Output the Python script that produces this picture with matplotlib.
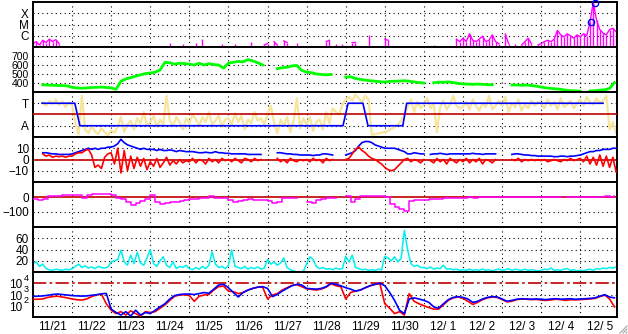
import numpy as np
import matplotlib
matplotlib.use('Agg')
import matplotlib.pyplot as plt
from matplotlib.lines import Line2D

plt.rcParams['font.family'] = ['Liberation Sans', 'DejaVu Sans']
plt.rcParams['font.size'] = 8.5

nan = np.nan

# x axis: days since 11/21 00 UT
day_labels = ['11/21', '11/22', '11/23', '11/24', '11/25', '11/26', '11/27', '11/28',
              '11/29', '11/30', '12/ 1', '12/ 2', '12/ 3', '12/ 4', '12/ 5']

# GOES X-ray flux, 2-hour samples, units of 1e-7 W/m2 (0 = below plot)
xray = [2, 3, 1.5, 4, 2.5, 5, 3, 4.5, 2, 0, 0, 0,
        0, 0, 0, 0, 0, 0, 0, 0, 0, 0, 0, 0,
        0, 0, 0, 0, 0, 0, 0, 0, 0, 0, 0, 0,
        0, 0, 0, 0, 0, 0, 2.5, 0, 0, 0, 1.7, 0,
        0, 0, 2.5, 0, 5, 0, 0, 0, 0, 0, 1.7, 0,
        0, 0, 2, 0, 0, 0, 0, 3, 0, 0, 0, 1.5,
        2, 0, 3, 1.5, 0, 3.5, 2.5, 0, 0, 2.5, 0, 0,
        0, 0, 0, 0, 0, 0, 3, 4, 0, 2, 0, 2,
        0, 0, 2.5, 2.5, 0, 0, 0, 12, 0, 0, 0, 0,
        5, 4, 0, 0, 0, 0, 0, 0, 0, 0, 0, 0,
        0, 0, 0, 1.5, 0, 0, 0, 0, 0, 0, 5, 3,
        6, 3, 15, 4, 3, 5, 9, 3, 4, 12, 3, 2,
        0, 14, 2, 0, 2, 0, 1.5, 3, 6, 2, 0, 1.5,
        2, 3, 4, 3, 5, 30, 12, 8, 15, 10, 6, 12,
        8, 15, 10, 180, 9300, 250, 35, 17, 12, 35, 46, 23]
flare_t = [14.27, 14.37]
flare_f = [1.8e-5, 9.0e-4]

# solar wind speed, 3-hour samples (km/s)
speed = [nan, nan, 380, 378, 375, 372, 372, 368,
         352, 345, 342, 345, 350, 352, 355, 350,
         345, 330, 420, 445, 460, 475, 490, 505,
         510, 520, 545, 630, 625, 610, 620, 615,
         610, 600, 620, 600, 615, 605, 600, 565,
         620, 630, 640, 635, 660, 645, 625, 600,
         nan, nan, 560, 570, 575, 590, 595, 540,
         520, 515, 500, 495, 490, 495, nan, nan,
         465, 470, 450, 440, 432, 425, 420, 415,
         410, 418, 420, 422, 425, 420, 412, 405,
         400, nan, 402, 410, 408, 412, 405, 395,
         390, 388, 385, 388, 385, 382, 380, nan,
         nan, nan, 378, 378, 375, 376, 372, 365,
         355, 345, 340, 335, 330, 320, 315, 312,
         310, nan, 312, 315, 320, 325, 340, 405]

# IMF longitude angle (deg), 2-hour samples, and sector polarity
phi = [nan, nan, nan, 280, 250, 290, 265, 300, 255, 285, 240, 275,
       260, 120, 20, 330, 60, 30, 90, 45, 25, 70, 40, 15,
       50, 35, 80, 160, 40, 100, 130, 60, 150, 110, 200, 90,
       120, 170, 80, 140, 100, 330, 130, 90, 160, 120, 60, 150,
       110, 180, 140, 90, 160, 120, 200, 100, 130, 170, 80, 140,
       150, 100, 190, 120, 170, 60, 140, 110, 200, 130, 150, 100,
       180, 250, 120, 30, 140, 90, 160, 40, 130, 310, 70, 150,
       100, 160, 50, 120, 140, 60, 200, 110, 230, 200, 180, 260,
       300, 320, 290, 340, 310, 280, 330, 300, 18, 22, 28, 34,
       40, 50, 65, 80, 100, 130, 170, 240, 300, 200, 280, 230,
       260, 310, 230, 270, 40, 240, 290, 220, 260, 330, 250, 230,
       240, 280, 220, 300, 250, 210, 270, 240, 330, 220, 250, 290,
       250, 320, 200, 270, 240, 300, 210, 260, 230, 290, 250, 280,
       270, 230, 300, 250, 280, 220, 310, 240, 260, 290, 230, 270,
       300, 250, 320, 280, 260, 310, 270, 290, 330, 60, 120, 30]
sector_t = [0.23, 1.07, 1.2, 7.93, 8.06, 8.44, 8.57, 9.46, 9.56, 14.58]
sector_v = [270, 270, 90, 90, 270, 270, 90, 90, 270, 270]

# IMF |B| and Bz (nT), 2-hour samples
bt = [nan, nan, nan, 6, 6, 5.5, 5, 5, 4.5, 4.5, 4.5, 4.5,
      5, 6, 7, 8, 9, 10, 9, 10, 9, 10, 10, 11,
      11, 12, 14, 18, 15, 13, 12, 11, 10, 9, 10, 9,
      9, 9, 8, 9, 8, 8, 8.5, 8, 7, 8, 7.5, 7,
      7, 7, 6.5, 6, 6, 6.5, 6, 6, 7, 6, 6, 5.5,
      5.5, 5, 5, 5, 5, 5, 4.5, 4.5, 4.5, 4.5, 4.5, nan,
      nan, nan, nan, 6, 6, 5.5, 5, 5, 4.5, 4.5, 4, 4,
      4, 4, 3.5, 4, 4, 5, 5, 4.5, 4, nan, nan, nan,
      4, 5, 6, 8, 12, 15, 16, 16, 15, 13, 12, 11,
      10, 10, 10, 10, 9, 8, 7, 5, 5, 6, 5.5, 5,
      5, nan, 4.5, 5, 5, 5.5, 5, 4.5, 5, 5, 5, 5,
      5, 5, 5, 5.5, 5, 5, 4.5, 5, 5, 5, 5, nan,
      nan, nan, nan, 4.5, 5, 5, 4.5, 4, 4, 3.5, 3.5, 3,
      3, 3, 3, 3, 2.5, 2.5, 3, 3, 2.5, 3, 3, 3.5,
      4, 5, 6, 7, 7, 8, 8, 9, 9, 9, 10, 10]
bz = [nan, nan, nan, 5, 3, 4, 2, 3, 2.5, 3, 2, 3,
      3, 5, 6, 6, 8, 9, 4, -7, -5, -8, 2, 5,
      6, -4, 10, -12, 8, -10, 3, -8, 2, -6, 1, -9,
      -2, -6, 1, -7, -3, 2, -5, -1, -4, 0, -3, -1,
      -2, 1, -3, 0, -1, -4, 1, -2, 0, -3, 1, -1,
      0, -2, 1, -1, -3, 1, 0, -2, 1, -1, 0, nan,
      nan, nan, nan, 1, -2, 0, -3, 1, -1, -2, 0, -1,
      0, -2, 1, -1, 0, -3, 1, -1, 0, nan, nan, nan,
      0, 1, 5, 9, 11, 8, 6, 3, 1, 0, -2, -4,
      -7, -9, -10, -9, -6, -3, 0, 1, -2, 0, -1, -3,
      0, nan, -1, -3, 1, -2, 0, -4, 1, -1, -3, 0,
      -2, 1, -3, 0, -2, 1, -4, 0, -1, -3, 0, nan,
      nan, nan, nan, 0, -1, 1, -2, 0, -1, 0, -1, 0,
      -1, 0, -2, -1, 0, -1, -2, 0, -1, 1, -1, 0,
      1, -2, 3, -4, 2, -5, 4, -6, 3, -7, 2, -11]

# Dst (nT), 3-hour samples
dst = [-10, -20, -15, 5, 10, 10, 12, 14,
       14, 13, -8, 15, 18, 17, 18, 17,
       16, -5, -15, -35, -50, -40, -25, -15,
       15, -30, -45, -40, -35, -30, -25, -20,
       -15, -12, -8, -5, 8, -5, -8, -5,
       -20, -30, -25, -20, -15, -18, -22, -20,
       -25, -40, -30, -8, -5, -5, nan, nan,
       -30, -42, -20, -10, -8, -6, nan, nan,
       4, -34, -10, 6, 8, 8, 10, 10,
       0, -45, -65, -80, -95, -25, -22, -20,
       -18, -15, -12, -10, -8, -8, -6, -5,
       -5, -3, -5, -2, 0, -3, -2, 0,
       2, 0, -3, 0, 2, 0, 0, -2,
       0, 2, 0, -2, nan, 0, 2, 0,
       2, 0, 3, 0, 2, 4, 3, 5]

# cyan series, 2-hour samples
cyan = [15, 18, 10, 14, 6, 4, 3, 5, 4, 3, 5, 4,
        6, 10, 14, 8, 11, 7, 9, 6, 10, 8, 7, 9,
        18, 20, 22, 39, 18, 12, 30, 15, 35, 16, 12, 25,
        40, 15, 10, 20, 27, 12, 8, 18, 6, 10, 8, 12,
        6, 4, 8, 5, 10, 6, 12, 36, 14, 8, 10, 6,
        12, 39, 10, 8, 6, 10, 5, 8, 6, 9, 5, 7,
        22, 14, 18, 12, 16, 25, 8, 4, 2, 0, 0, 1,
        15, 27, 22, 10, 6, 8, 5, 6, 4, 7, 5, 6,
        28, 18, 30, 8, 6, 4, 5, 3, 4, 3, 5, 4,
        28, 25, 20, 27, 18, 24, 74, 40, 15, 10, 12, 8,
        8, 6, 9, 5, 7, 6, 12, 5, 6, 4, 5, 3,
        4, 3, 5, 3, 4, 3, 5, 3, 4, 2, 4, 5,
        3, 4, 6, 3, 5, 4, 3, 5, 3, 4, 3, 2,
        3, 5, 4, 7, 3, 4, 3, 5, 6, 3, 4, 2,
        3, 2, 4, 5, 3, 6, 5, 7, 6, 8, 7, 9]

# >2 MeV electron flux, 3-hour samples (two satellites)
elec_blue = [700, 700, 750, 850, 1000, 1100, 1000, 900,
             800, 750, 720, 750, 850, 950, 1150, 1250,
             50, 25, 15, 30, 12, 40, 15, 25,
             20, 40, 80, 150, 400, 800, 1000, 1100,
             1100, 1000, 1200, 1500, 1300, 3000, 7000, 8000,
             4000, 1500, 600, 1500, 2500, 3500, 4500, 5000,
             3500, 650, 1000, 2000, 3500, 6000, 8000, 7000,
             3500, 3200, 3000, 3500, 5000, 10000, 8000, 6000,
             4000, 3000, 2000, 2500, 4000, 6000, 8000, 10000,
             6000, 1500, 300, 40, 20, 400, 500, 400,
             300, 200, 80, 60, 150, 350, 550, 650,
             550, 400, 200, 250, 400, 550, 650, 600,
             400, 250, 300, 380, 420, 400, 380, 400,
             380, 350, 400, 420, 380, 400, 420, 380,
             400, 420, 450, 500, 700, 950, 600, 500]
elec_red = [380, 380, 400, 550, 650, 700, 600, 500,
            400, 340, 320, 400, 650, 900, 1100, 150,
            40, 20, 30, 15, 35, 20, 12, 30,
            25, 30, 60, 120, 300, 700, 900, 950,
            800, 250, 700, 900, 1000, 2500, 5000, 5500,
            2000, 1800, 1200, 1500, 2500, 3500, 4500, 4500,
            400, 900, 1200, 2500, 4000, 6500, 7500, 5000,
            3200, 2800, 2500, 3000, 4500, 9000, 6000, 5000,
            400, 1500, 2000, 2500, 4000, 6000, 8000, 9000,
            150, 60, 20, 30, 15, 1200, 250, 150,
            100, 70, 50, 50, 120, 300, 500, 600,
            450, 250, 130, 200, 350, 500, 600, 550,
            350, 220, 250, 350, 400, 380, 350, 370,
            320, 300, 330, 380, 350, 300, 350, 330,
            350, 380, 400, 450, 650, 900, 400, 80]
elec_exps = [2, 3, 4]

t2 = np.arange(len(xray)) / 12.0
t3 = np.arange(len(speed)) / 8.0

W, H = 628, 334
fig = plt.figure(figsize=(W / 100, H / 100), dpi=100)

left, right = 33 / W, 617 / W
ph = 45
axes = []
for k in range(7):
    bottom = (H - 2 - ph * (k + 1)) / H
    ax = fig.add_axes([left, bottom, right - left, ph / H])
    axes.append(ax)

grid_kw = dict(color='black', linestyle=(0, (1, 3)), linewidth=0.8)
darkred = '#c00000'

for ax in axes:
    ax.set_xlim(0, 14.94)
    ax.set_xticks(np.arange(1, 15))
    ax.set_xticklabels([])
    ax.tick_params(length=0, pad=3)
    for s in ax.spines.values():
        s.set_linewidth(1.4)
    for d in range(1, 15):
        ax.axvline(d, **grid_kw, zorder=1)

def hgrid(ax, vals):
    for v in vals:
        ax.axhline(v, **grid_kw, zorder=1)

# panel 1: X-ray
ax = axes[0]
xr = np.array(xray, dtype=float) * 1e-7
xr[xr == 0] = nan
ax.set_yscale('log')
ax.set_ylim(1e-7, 1e-3)
ax.vlines(t2, 5e-8, xr, color='#ff00ff', linewidth=1.0, zorder=2)
ax.plot(t2, xr, color='#ff00ff', linewidth=1.0, zorder=2)
ax.plot(flare_t, flare_f, 'o', mfc='none', mec='#0000ff', ms=4.5, mew=1.0,
        clip_on=False, zorder=3)
ax.set_yticks([1e-6, 1e-5, 1e-4])
ax.set_yticklabels(['C', 'M', 'X'])
ax.minorticks_off()
ax.tick_params(axis='y', which='both', length=0)
hgrid(ax, [1e-6, 1e-5, 1e-4])

# panel 2: speed
ax = axes[1]
ax.set_ylim(300, 800)
ax.plot(t3, speed, color='#00ff00', linewidth=2.0, zorder=2)
ax.set_yticks([400, 500, 600, 700])
ax.tick_params(axis='y', labelsize=7.5)
hgrid(ax, [400, 500, 600, 700])

# panel 3: IMF angle / sector
ax = axes[2]
ax.set_ylim(0, 360)
ax.plot(t2, phi, color='#f7e59c', linewidth=1.6, zorder=2)
ax.axhline(180, color=darkred, linewidth=1.2, zorder=3)
ax.plot(sector_t, sector_v, color='#0000ff', linewidth=1.2, zorder=4)
ax.set_yticks([90, 270])
ax.set_yticklabels(['A', 'T'])
hgrid(ax, [90, 270])

# panel 4: IMF B
ax = axes[3]
ax.set_ylim(-20, 20)
ax.axhline(0, color=darkred, linewidth=1.2, zorder=2)
ax.plot(t2, bt, color='#0000ff', linewidth=1.2, zorder=3)
ax.plot(t2, bz, color='#ff0000', linewidth=1.2, zorder=4)
ax.set_yticks([-10, 0, 10])
hgrid(ax, [-10, 10])

# panel 5: Dst
ax = axes[4]
ax.set_ylim(-200, 100)
ax.axhline(0, color=darkred, linewidth=1.2, zorder=2)
ax.plot(t3, dst, color='#ff00ff', linewidth=1.1, drawstyle='steps-post', zorder=3)
ax.set_yticks([-100, 0])
hgrid(ax, [-100])

# panel 6: cyan
ax = axes[5]
ax.set_ylim(0, 80)
ax.plot(t2, cyan, color='#00f0f0', linewidth=1.1, zorder=2)
ax.set_yticks([20, 40, 60])
hgrid(ax, [20, 40, 60])

# panel 7: electrons
ax = axes[6]
ax.set_yscale('log')
ax.set_ylim(1e1, 1e5)
ax.axhline(1e4, color=darkred, linewidth=1.2, linestyle=(0, (8, 2, 1.5, 2)), zorder=2)
ax.plot(t3, elec_red, color='#ff0000', linewidth=1.2, zorder=3)
ax.plot(t3, elec_blue, color='#0000ff', linewidth=1.2, zorder=4)
ax.set_yticks([10.0 ** e for e in elec_exps])
ax.set_yticklabels([])
ax.minorticks_off()
ax.tick_params(axis='y', which='both', length=0)
for e in elec_exps:
    ax.annotate('10', xy=(0, 10.0 ** e), xycoords=('axes fraction', 'data'),
                xytext=(-8, -1.5), textcoords='offset points', ha='right', va='center')
    ax.annotate(str(e), xy=(0, 10.0 ** e), xycoords=('axes fraction', 'data'),
                xytext=(-3, 3.5), textcoords='offset points', ha='right', va='center',
                fontsize=6.5)
hgrid(ax, [1e2, 1e3])
ax.set_xticks(np.arange(15) + 0.5, minor=True)
ax.set_xticklabels(day_labels, minor=True)
ax.tick_params(axis='x', which='minor', length=0, pad=3)

# window resize grip in the corner
for k in range(3):
    off = 3 * k + 2
    fig.add_artist(Line2D([(W - off) / W, (W - 1) / W], [1 / H, off / H],
                          color='#a0a0a0', linewidth=0.8, transform=fig.transFigure))

fig.savefig('out.png', dpi=100)
